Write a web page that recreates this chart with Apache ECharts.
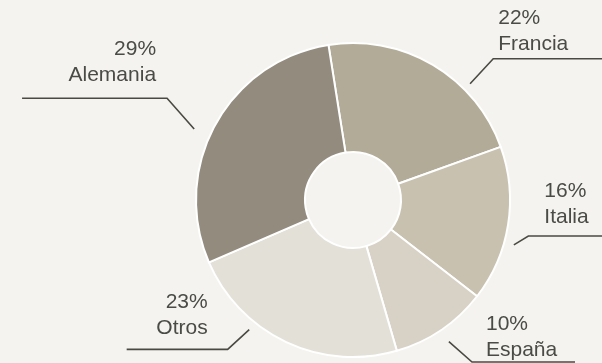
<!DOCTYPE html>
<html>
<head>
<meta charset="utf-8">
<script src="https://cdn.jsdelivr.net/npm/echarts@6/dist/echarts.min.js"></script>
<style>
html,body{margin:0;padding:0;background:#f4f3ef;}
#chart{width:602px;height:363px;}
</style>
</head>
<body>
<div id="chart"></div>
<script>
// ---- data ----
const categories = ['Francia', 'Italia', 'España', 'Otros', 'Alemania'];
const shares = [22, 16, 10, 23, 29];

// ---- styles ----
const sliceColors = ['#b2ab98', '#c8c1af', '#d8d2c6', '#e3e0d8', '#928b7e'];
// label leader geometry (angle in degrees, radius in px, relative to pie centre)
const lineStart = [[44.8, 165], [-15.6, 167], [-55.9, 171], [-128.7, 166], [155.9, 174]];
const lineKnee = [[45.2, 199], [-11.6, 179], [-53.7, 201], [-130, 195], [151.3, 212]];
const lineTail = [120, 90, 103, 101, 145];
const textDx = [5, 16, 14, -20, -11];
const textGap = [0, 4, -3, 6, 8];

const CX = 0.5864, CY = 0.551;

const chart = echarts.init(document.getElementById('chart'), null, {renderer: 'canvas'});

function polar(a, r, cx, cy) {
  const t = a * Math.PI / 180;
  return [cx + r * Math.cos(t), cy - r * Math.sin(t)];
}

chart.setOption({
  backgroundColor: '#f4f3ef',
  animation: false,
  series: [{
    type: 'pie',
    center: [(CX * 100) + '%', (CY * 100) + '%'],
    radius: [48, 157],
    startAngle: 99,
    clockwise: true,
    avoidLabelOverlap: false,
    itemStyle: {borderColor: '#ffffff', borderWidth: 2},
    emphasis: {disabled: true},
    label: {
      show: true,
      position: 'outside',
      formatter: p => Math.round(p.percent) + '%\n' + p.name,
      fontFamily: 'Arial, "Liberation Sans", sans-serif',
      fontSize: 21,
      lineHeight: 26,
      color: '#4a4a47'
    },
    labelLine: {
      show: true,
      length: 20,
      length2: 40,
      lineStyle: {color: '#4a4a42', width: 1.6}
    },
    labelLayout: function (params) {
      const i = params.dataIndex;
      const w = chart.getWidth(), h = chart.getHeight();
      const cx = w * CX, cy = h * CY;
      const p0 = polar(lineStart[i][0], lineStart[i][1], cx, cy);
      const p1 = polar(lineKnee[i][0], lineKnee[i][1], cx, cy);
      const isLeft = p1[0] < cx;
      const p2 = [p1[0] + (isLeft ? -lineTail[i] : lineTail[i]), p1[1]];
      return {
        x: p1[0] + textDx[i],
        y: p1[1] - textGap[i] - 2,
        align: isLeft ? 'right' : 'left',
        verticalAlign: 'bottom',
        labelLinePoints: [p0, p1, p2]
      };
    },
    data: categories.map((c, i) => ({
      name: c,
      value: shares[i],
      itemStyle: {color: sliceColors[i]}
    }))
  }]
});
</script>
</body>
</html>
